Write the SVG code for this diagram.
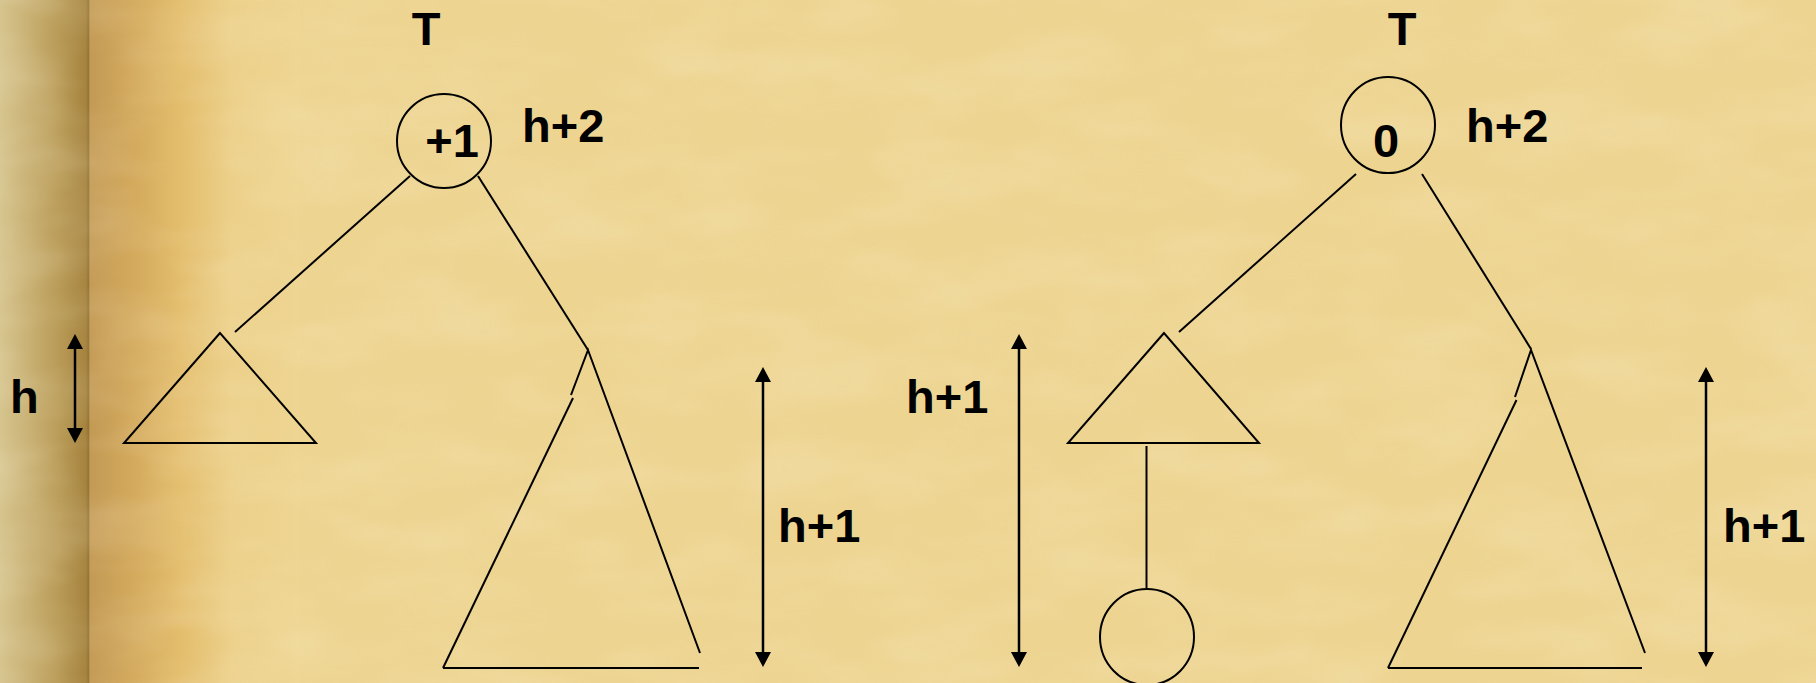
<svg xmlns="http://www.w3.org/2000/svg" width="1816" height="683" viewBox="0 0 1816 683">
  <style>
    .ln { stroke: #000; stroke-width: 2; fill: none; stroke-linecap: butt; }
    .dim { stroke: #000; stroke-width: 2.5; fill: none; marker-start: url(#ah); marker-end: url(#ah); }
    .node { stroke: #000; stroke-width: 2; fill: none; }
    .lbl { font-family: "Liberation Sans", Arial, sans-serif; font-weight: bold; font-size: 47px; fill: #000; }
  </style>
  <defs>
    <linearGradient id="edge" x1="0" y1="0" x2="300" y2="0" gradientUnits="userSpaceOnUse">
      <stop offset="0" stop-color="#D6C58F"/>
      <stop offset="0.07" stop-color="#CDB67B"/>
      <stop offset="0.2" stop-color="#B89A56"/>
      <stop offset="0.285" stop-color="#A6843F"/>
      <stop offset="0.295" stop-color="#967536"/>
      <stop offset="0.3" stop-color="#C39A55"/>
      <stop offset="0.43" stop-color="#D2A85C"/>
      <stop offset="0.6" stop-color="#E3BD6C"/>
      <stop offset="0.77" stop-color="#ECD08A"/>
      <stop offset="1" stop-color="#EED592"/>
    </linearGradient>
    <filter id="paper" x="0" y="0" width="100%" height="100%">
      <feTurbulence type="fractalNoise" baseFrequency="0.008 0.02" numOctaves="3" seed="7"/>
      <feColorMatrix type="matrix" values="0 0 0 0 1  0 0 0 0 0.96  0 0 0 0 0.78  0 0 0 0.5 -0.18"/>
    </filter>
    <marker id="ah" viewBox="0 0 15 16" refX="5" refY="8" markerWidth="15" markerHeight="16" markerUnits="userSpaceOnUse" orient="auto-start-reverse">
      <path d="M0,0 L15,8 L0,16 Z" fill="#000"/>
    </marker>
  </defs>

  <!-- background -->
  <rect x="0" y="0" width="1816" height="683" fill="#EDD491"/>
  <rect x="0" y="0" width="300" height="683" fill="url(#edge)"/>
  <rect x="0" y="0" width="1816" height="683" filter="url(#paper)" opacity="0.6"/>

  <!-- connectors -->
  <g id="connectors">
    <line class="ln" x1="410" y1="176" x2="235" y2="332"/>
    <line class="ln" x1="478" y1="176" x2="588" y2="350"/>
    <line class="ln" x1="1356" y1="174" x2="1179" y2="332"/>
    <line class="ln" x1="1422" y1="174" x2="1531" y2="349"/>
    <line class="ln" x1="1146.5" y1="446" x2="1146.5" y2="588"/>
  </g>

  <!-- left tree -->
  <g id="left-title">
    <text class="lbl" x="426" y="45" text-anchor="middle">T</text>
  </g>
  <g id="left-root">
    <ellipse class="node" cx="444" cy="141" rx="47" ry="47"/>
    <text class="lbl" x="452" y="157" text-anchor="middle">+1</text>
  </g>
  <g id="left-root-height">
    <text class="lbl" x="522" y="142">h+2</text>
  </g>
  <g id="left-subtree-small">
    <polygon class="node" points="220,333 124,443 316,443"/>
  </g>
  <g id="left-subtree-big">
    <polyline class="node" points="571,395 588,350 700,653"/>
    <line class="ln" x1="573" y1="398" x2="443" y2="668"/>
    <line class="ln" x1="443" y1="668" x2="699" y2="668"/>
  </g>
  <g id="left-dim-h">
    <line class="dim" x1="75" y1="344" x2="75" y2="433"/>
    <text class="lbl" x="10" y="413">h</text>
  </g>
  <g id="left-dim-h1">
    <line class="dim" x1="763" y1="377" x2="763" y2="657"/>
    <text class="lbl" x="778" y="542">h+1</text>
  </g>

  <!-- right tree -->
  <g id="right-title">
    <text class="lbl" x="1402" y="45" text-anchor="middle">T</text>
  </g>
  <g id="right-root">
    <ellipse class="node" cx="1388" cy="125" rx="47" ry="48"/>
    <text class="lbl" x="1386" y="157" text-anchor="middle">0</text>
  </g>
  <g id="right-root-height">
    <text class="lbl" x="1466" y="142">h+2</text>
  </g>
  <g id="right-subtree-small">
    <polygon class="node" points="1164,333 1068,443 1259,443"/>
  </g>
  <g id="right-leaf">
    <ellipse class="node" cx="1147" cy="637" rx="47" ry="48"/>
  </g>
  <g id="right-subtree-big">
    <polyline class="node" points="1515,397 1531,350 1645,653"/>
    <line class="ln" x1="1516.5" y1="400" x2="1388" y2="668"/>
    <line class="ln" x1="1388" y1="668" x2="1642" y2="668"/>
  </g>
  <g id="right-dim-left">
    <line class="dim" x1="1019" y1="344" x2="1019" y2="657"/>
    <text class="lbl" x="906" y="413">h+1</text>
  </g>
  <g id="right-dim-right">
    <line class="dim" x1="1706" y1="377" x2="1706" y2="657"/>
    <text class="lbl" x="1723" y="542">h+1</text>
  </g>
</svg>
